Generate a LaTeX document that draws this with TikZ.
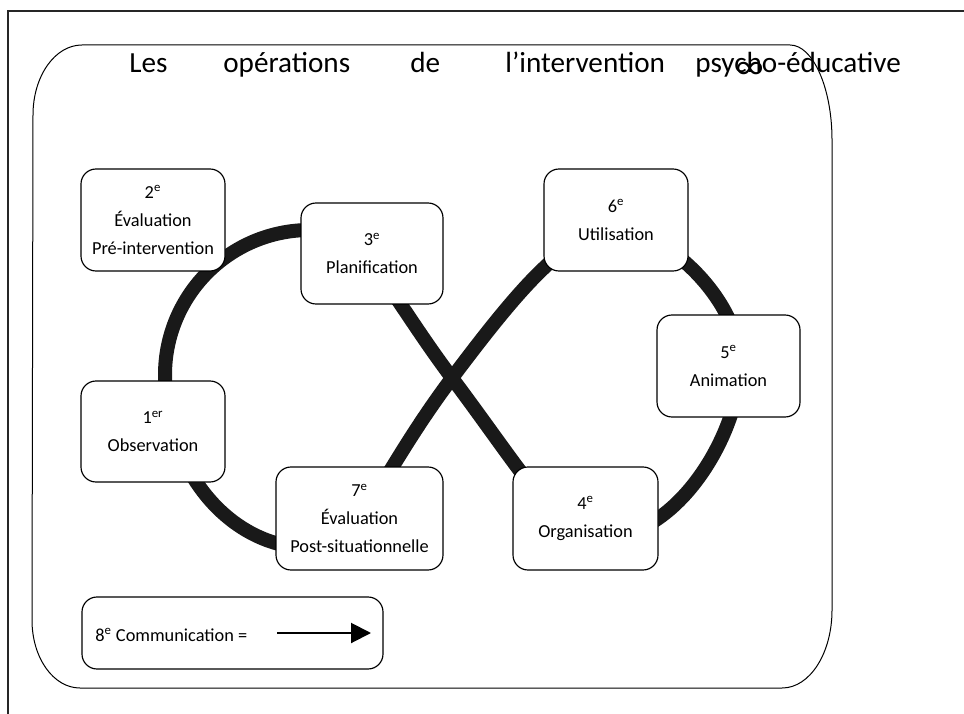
\documentclass[tikz,border=0pt]{standalone}
\usepackage{fontspec}
\setmainfont{Carlito}
\newfontfamily\symfont{DejaVu Sans}
\usetikzlibrary{arrows.meta}
\begin{document}
\begin{tikzpicture}[x=0.6pt,y=-0.6pt,
  stagebox/.style={draw=black, line width=0.7pt, fill=white, rounded corners=9pt,
    inner sep=0pt, align=center, font=\fontsize{11}{16.8}\selectfont},
  titleword/.style={anchor=base west, inner sep=0pt, font=\fontsize{17.5}{21}\selectfont},
  loopline/.style={line width=8.4pt, draw=black!90}]
\useasboundingbox (0,0) rectangle (964,714);
% outer frame
\draw[line width=1.2pt, draw=black!85] (8,714) -- (8,11) -- (964,11);
% rounded container
\draw[line width=0.6pt] (82,45) -- (790,45) .. controls (813,45) and (832,88) .. (832,140)
  -- (832,610) .. controls (832,653) and (810,688) .. (782,688)
  -- (80,688) .. controls (53.5,688) and (32,658) .. (32,620)
  -- (33,115) .. controls (33,76) and (55,45) .. (82,45) -- cycle;
% title
\node[titleword] (t1) at (129,73) {Les};
\node[titleword] (t2) at (223,73) {opérations};
\node[titleword] (t3) at (410,73) {de};
\node[titleword] (t4) at (505,73) {l’intervention};
\node[titleword] (t5) at (695,73) {psycho-éducative};
\node[inner sep=0pt, xscale=1.2, font=\symfont\fontsize{20}{20}\selectfont] (inf) at (750,70) {∞};
% figure eight
\draw[loopline] (617,230)
  .. controls (665,230) and (740,300) .. (740,365)
  .. controls (740,430) and (680,538) .. (600,538)
  .. controls (560,538) and (524,474) .. (452,378)
  .. controls (386,290) and (365,230) .. (310,230)
  .. controls (230,230) and (165,295) .. (165,375)
  .. controls (165,470) and (230,548) .. (310,548)
  .. controls (360,548) and (374,482) .. (452,378)
  .. controls (524,282) and (570,230) .. (617,230);
% stages
\node[stagebox, minimum width=86.4pt, minimum height=61.2pt] (b2) at (153,220) {2\textsuperscript{e}\\Évaluation\\Pré-intervention};
\node[stagebox, minimum width=85.2pt, minimum height=60.6pt] (b3) at (372,253.5) {3\textsuperscript{e}\\Planification};
\node[stagebox, minimum width=86.4pt, minimum height=60.6pt] (b1) at (153,431.5) {1\textsuperscript{er}\\Observation};
\node[stagebox, minimum width=100.2pt, minimum height=61.8pt] (b7) at (359.5,518.5) {7\textsuperscript{e}\\Évaluation\\Post-situationnelle};
\node[stagebox, minimum width=86.4pt, minimum height=61.2pt] (b6) at (616,220) {6\textsuperscript{e}\\Utilisation};
\node[stagebox, minimum width=85.8pt, minimum height=61.2pt] (b5) at (728.5,366) {5\textsuperscript{e}\\Animation};
\node[stagebox, minimum width=87pt, minimum height=61.8pt] (b4) at (585.5,518.5) {4\textsuperscript{e}\\Organisation};
% legend
\node[stagebox, minimum width=180.6pt, minimum height=43.2pt] (b8) at (232.5,633) {};
\node[anchor=base west, inner sep=0pt, font=\fontsize{11}{16.8}\selectfont] (comm) at (95,641) {8\textsuperscript{e} Communication =};
\coordinate (ca) at (277,633);
\coordinate (cb) at (371,633);
\draw[line width=1.2pt, -{Triangle[length=12pt,width=12pt]}] (ca) -- (cb);
\end{tikzpicture}
\end{document}
